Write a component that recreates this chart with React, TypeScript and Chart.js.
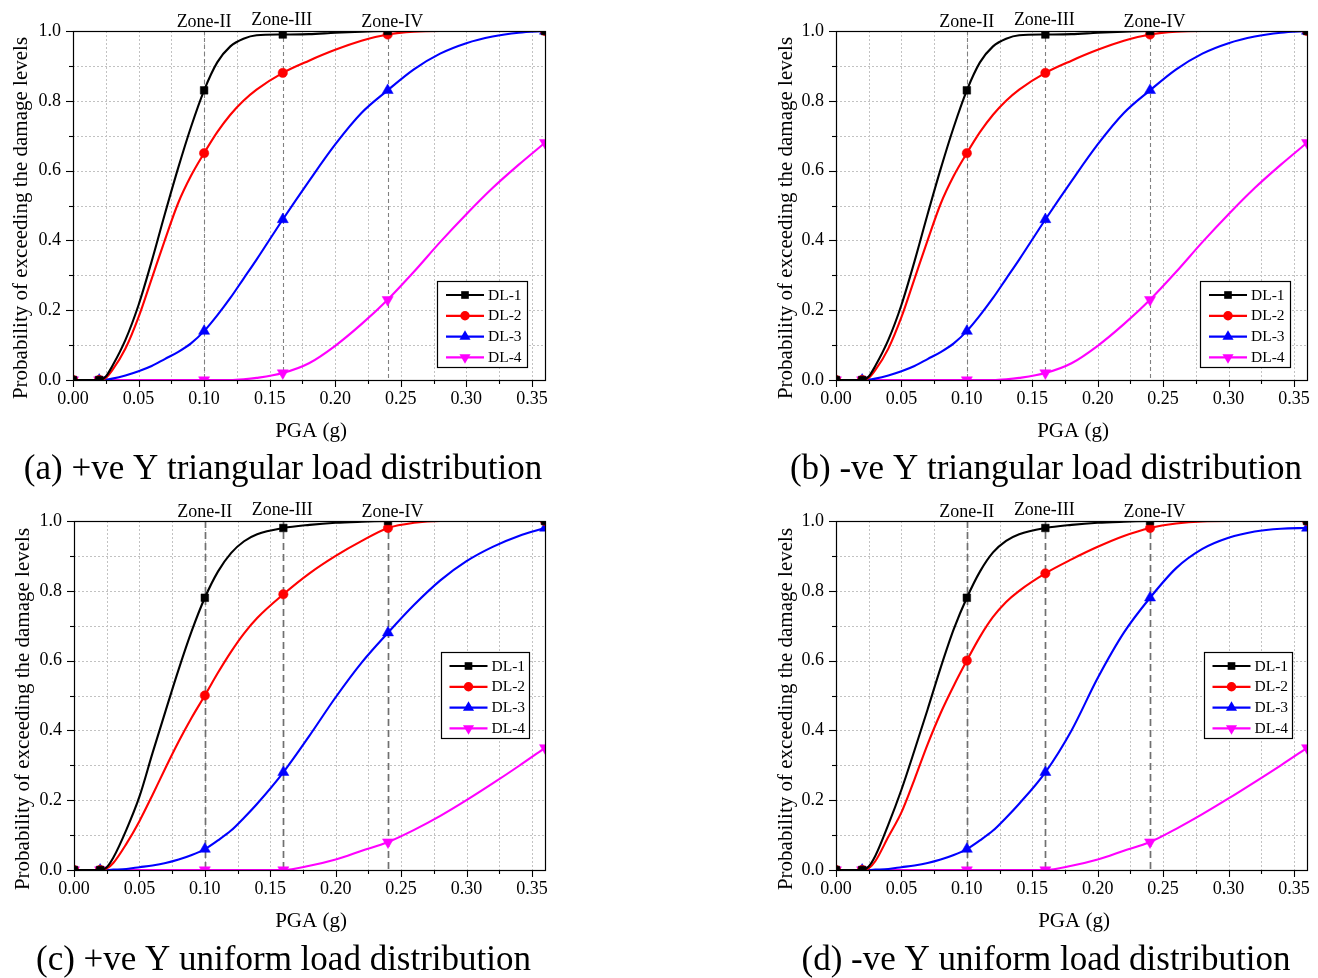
import React, { useEffect, useRef } from 'react';
import { Chart, registerables } from 'chart.js';

Chart.register(...registerables);

// ---------- data ----------
const PGA = [0, 0.02, 0.025, 0.03, 0.04, 0.05, 0.06, 0.07, 0.08, 0.09, 0.10, 0.11, 0.12, 0.13, 0.14, 0.16, 0.18, 0.20, 0.22, 0.24, 0.26, 0.28, 0.30, 0.32, 0.34, 0.36];
const MARKER_PGA = [0, 0.02, 0.10, 0.16, 0.24, 0.36];
const SERIES_LABELS = ['DL-1', 'DL-2', 'DL-3', 'DL-4'];

// (a) +ve Y triangular
const A_DL1 = [0, 0, 0.01, 0.04, 0.115, 0.215, 0.34, 0.475, 0.605, 0.725, 0.83, 0.91, 0.956, 0.978, 0.988, 0.99, 0.991, 0.995, 0.998, 1, 1, 1, 1, 1, 1, 1];
const A_DL2 = [0, 0, 0.006, 0.028, 0.09, 0.18, 0.29, 0.4, 0.505, 0.585, 0.65, 0.71, 0.76, 0.8, 0.832, 0.88, 0.915, 0.946, 0.972, 0.99, 0.998, 1, 1, 1, 1, 1];
const A_DL3 = [0, 0, 0.001, 0.004, 0.013, 0.025, 0.04, 0.06, 0.08, 0.105, 0.14, 0.185, 0.235, 0.29, 0.345, 0.46, 0.57, 0.675, 0.765, 0.83, 0.89, 0.935, 0.965, 0.984, 0.995, 1];
const A_DL4 = [0, 0, 0, 0, 0, 0, 0, 0, 0, 0, 0, 0, 0, 0.002, 0.006, 0.02, 0.048, 0.098, 0.16, 0.23, 0.31, 0.395, 0.475, 0.55, 0.617, 0.68];

// (b) -ve Y triangular
const B_DL1 = [0, 0, 0.01, 0.04, 0.115, 0.215, 0.34, 0.475, 0.605, 0.725, 0.83, 0.91, 0.956, 0.978, 0.988, 0.99, 0.991, 0.995, 0.998, 1, 1, 1, 1, 1, 1, 1];
const B_DL2 = [0, 0, 0.006, 0.028, 0.09, 0.18, 0.29, 0.4, 0.505, 0.585, 0.65, 0.71, 0.76, 0.8, 0.832, 0.88, 0.915, 0.946, 0.972, 0.99, 0.998, 1, 1, 1, 1, 1];
const B_DL3 = [0, 0, 0.001, 0.004, 0.013, 0.025, 0.04, 0.06, 0.08, 0.105, 0.14, 0.185, 0.235, 0.29, 0.345, 0.46, 0.57, 0.675, 0.765, 0.83, 0.89, 0.935, 0.965, 0.984, 0.995, 1];
const B_DL4 = [0, 0, 0, 0, 0, 0, 0, 0, 0, 0, 0, 0, 0, 0.002, 0.006, 0.02, 0.048, 0.098, 0.16, 0.23, 0.31, 0.395, 0.475, 0.55, 0.617, 0.68];

// (c) +ve Y uniform
const C_DL1 = [0, 0, 0.008, 0.035, 0.115, 0.21, 0.335, 0.456, 0.575, 0.685, 0.78, 0.855, 0.908, 0.942, 0.962, 0.98, 0.989, 0.995, 0.998, 1, 1, 1, 1, 1, 1, 1];
const C_DL2 = [0, 0, 0.004, 0.02, 0.075, 0.14, 0.215, 0.293, 0.368, 0.437, 0.5, 0.565, 0.625, 0.678, 0.722, 0.79, 0.85, 0.9, 0.943, 0.98, 0.995, 1, 1, 1, 1, 1];
const C_DL3 = [0, 0, 0, 0.001, 0.003, 0.008, 0.013, 0.02, 0.03, 0.043, 0.06, 0.085, 0.113, 0.15, 0.19, 0.28, 0.385, 0.495, 0.595, 0.68, 0.76, 0.83, 0.885, 0.926, 0.957, 0.98];
const C_DL4 = [0, 0, 0, 0, 0, 0, 0, 0, 0, 0, 0, 0, 0, 0, 0, 0, 0.012, 0.03, 0.055, 0.08, 0.115, 0.155, 0.2, 0.248, 0.298, 0.35];

// (d) -ve Y uniform
const D_DL1 = [0, 0, 0.01, 0.04, 0.13, 0.23, 0.343, 0.46, 0.58, 0.69, 0.78, 0.855, 0.91, 0.943, 0.962, 0.98, 0.989, 0.995, 0.998, 1, 1, 1, 1, 1, 1, 1];
const D_DL2 = [0, 0, 0.005, 0.025, 0.095, 0.165, 0.26, 0.36, 0.45, 0.528, 0.6, 0.668, 0.725, 0.768, 0.8, 0.85, 0.89, 0.926, 0.957, 0.98, 0.993, 0.999, 1, 1, 1, 1];
const D_DL3 = [0, 0, 0, 0.001, 0.003, 0.008, 0.013, 0.02, 0.03, 0.043, 0.06, 0.085, 0.113, 0.15, 0.19, 0.28, 0.4, 0.55, 0.68, 0.78, 0.865, 0.92, 0.952, 0.97, 0.978, 0.98];
const D_DL4 = [0, 0, 0, 0, 0, 0, 0, 0, 0, 0, 0, 0, 0, 0, 0, 0, 0.012, 0.03, 0.055, 0.08, 0.118, 0.16, 0.205, 0.252, 0.3, 0.35];

const X_TICKS = [0, 0.05, 0.1, 0.15, 0.2, 0.25, 0.3, 0.35];
const X_TICK_LABELS = ['0.00', '0.05', '0.10', '0.15', '0.20', '0.25', '0.30', '0.35'];
const X_MINOR = [0.025, 0.075, 0.125, 0.175, 0.225, 0.275, 0.325];
const Y_TICKS = [0, 0.2, 0.4, 0.6, 0.8, 1.0];
const Y_TICK_LABELS = ['0.0', '0.2', '0.4', '0.6', '0.8', '1.0'];
const Y_MINOR = [0.1, 0.3, 0.5, 0.7, 0.9];
const ZONE_PGA = [0.1, 0.16, 0.24];
const ZONE_LABELS = ['Zone-II', 'Zone-III', 'Zone-IV'];
const X_TITLE = 'PGA (g)';
const Y_TITLE = 'Probability of exceeding the damage levels';
const CAPTIONS = [
  '(a) +ve Y triangular load distribution',
  '(b) -ve Y triangular load distribution',
  '(c) +ve Y uniform load distribution',
  '(d) -ve Y uniform load distribution',
];

// ---------- styles / layout ----------
const SERIF = "'Liberation Serif', 'Times New Roman', Times, serif";
const STYLES = [
  { color: '#000000', pointStyle: 'rect', radius: 5.4, rotation: 0 },
  { color: '#ff0000', pointStyle: 'circle', radius: 4.7, rotation: 0 },
  { color: '#0000ff', pointStyle: 'triangle', radius: 6.4, rotation: 0 },
  { color: '#ff00ff', pointStyle: 'triangle', radius: 6.4, rotation: 180 },
];
const ZONE_DX = [0, -1, 4.5];
const ZONE_DY = [-4.5, -6, -4.5];

const LIGHT_ZONE = { color: '#808080', width: 1.1, dash: [4, 3] };
const BOLD_ZONE = { color: '#707070', width: 1.7, dash: [7, 4] };

const PANELS = [
  {
    series: [A_DL1, A_DL2, A_DL3, A_DL4], caption: CAPTIONS[0],
    cv: { x: 0, y: 0, w: 560, h: 490 }, area: { l: 73, t: 31, r: 545, b: 380 },
    legend: { x: 437, y: 281, w: 90, h: 86 },
    yTitle: { x: 27, y: 218 }, xTitle: { x: 311, y: 437 }, cap: { x: 283, y: 479 }, zone: LIGHT_ZONE,
  },
  {
    series: [B_DL1, B_DL2, B_DL3, B_DL4], caption: CAPTIONS[1],
    cv: { x: 758, y: 0, w: 560, h: 490 }, area: { l: 836, t: 31, r: 1308, b: 380 },
    legend: { x: 1200, y: 281, w: 90, h: 86 },
    yTitle: { x: 792, y: 218 }, xTitle: { x: 1073, y: 437 }, cap: { x: 1046, y: 479 }, zone: LIGHT_ZONE,
  },
  {
    series: [C_DL1, C_DL2, C_DL3, C_DL4], caption: CAPTIONS[2],
    cv: { x: 0, y: 490, w: 560, h: 488 }, area: { l: 74, t: 521, r: 545, b: 870 },
    legend: { x: 440.5, y: 652, w: 87.5, h: 86 },
    yTitle: { x: 28.5, y: 709 }, xTitle: { x: 311, y: 927 }, cap: { x: 283.5, y: 970 }, zone: BOLD_ZONE,
  },
  {
    series: [D_DL1, D_DL2, D_DL3, D_DL4], caption: CAPTIONS[3],
    cv: { x: 758, y: 490, w: 560, h: 488 }, area: { l: 836, t: 521, r: 1308, b: 870 },
    legend: { x: 1203.5, y: 652, w: 87.5, h: 86 },
    yTitle: { x: 792, y: 709 }, xTitle: { x: 1074, y: 927 }, cap: { x: 1046, y: 970 }, zone: BOLD_ZONE,
  },
];

function markerPath(ctx: CanvasRenderingContext2D, style: string, x: number, y: number, r: number, rotDeg: number) {
  ctx.beginPath();
  if (style === 'circle') {
    ctx.arc(x, y, r, 0, Math.PI * 2);
  } else if (style === 'rect') {
    const s = r / Math.SQRT2;
    ctx.rect(x - s, y - s, 2 * s, 2 * s);
  } else {
    let rad = (rotDeg * Math.PI) / 180;
    for (let k = 0; k < 3; k++) {
      const px = x + Math.sin(rad) * r;
      const py = y - Math.cos(rad) * r;
      if (k === 0) ctx.moveTo(px, py);
      else ctx.lineTo(px, py);
      rad += (2 * Math.PI) / 3;
    }
    ctx.closePath();
  }
}

function PanelChart({ panel }: { panel: any }) {
  const ref = useRef<HTMLCanvasElement>(null);

  useEffect(() => {
    const canvas = ref.current;
    if (!canvas) return;
    const { cv, area } = panel;
    const ox = cv.x;
    const oy = cv.y;

    const datasets = panel.series.map((vals: number[], i: number) => {
      const st = STYLES[i];
      return {
        label: SERIES_LABELS[i],
        data: PGA.map((x, j) => ({ x, y: vals[j] })),
        borderColor: st.color,
        backgroundColor: st.color,
        pointBackgroundColor: st.color,
        pointBorderColor: st.color,
        pointBorderWidth: 0.5,
        borderWidth: 2.1,
        pointStyle: st.pointStyle,
        pointRotation: st.rotation,
        pointRadius: PGA.map((x) => (MARKER_PGA.some((m) => Math.abs(m - x) < 1e-9) ? st.radius : 0)),
        pointHoverRadius: 0,
        cubicInterpolationMode: 'monotone',
        fill: false,
      };
    });

    const deco = {
      id: 'deco',
      beforeDatasetsDraw(chart: any) {
        const { ctx, chartArea: ca, scales } = chart;
        const xs = scales.x;
        const ys = scales.y;
        ctx.save();
        ctx.strokeStyle = '#c2c2c2';
        ctx.lineWidth = 1;
        ctx.setLineDash([2, 2]);
        [...X_TICKS, ...X_MINOR].forEach((v) => {
          if (v <= 0) return;
          const px = Math.round(xs.getPixelForValue(v)) + 0.5;
          ctx.beginPath();
          ctx.moveTo(px, ca.top);
          ctx.lineTo(px, ca.bottom);
          ctx.stroke();
        });
        [...Y_TICKS, ...Y_MINOR].forEach((v) => {
          if (v <= 0 || v >= 1) return;
          const py = Math.round(ys.getPixelForValue(v)) + 0.5;
          ctx.beginPath();
          ctx.moveTo(ca.left, py);
          ctx.lineTo(ca.right, py);
          ctx.stroke();
        });
        // zone lines
        ctx.strokeStyle = panel.zone.color;
        ctx.lineWidth = panel.zone.width;
        ctx.setLineDash(panel.zone.dash);
        ZONE_PGA.forEach((v) => {
          const px = Math.round(xs.getPixelForValue(v)) + 0.5;
          ctx.beginPath();
          ctx.moveTo(px, ca.top);
          ctx.lineTo(px, ca.bottom);
          ctx.stroke();
        });
        ctx.restore();
      },
      afterDraw(chart: any) {
        const { ctx, chartArea: ca, scales } = chart;
        const xs = scales.x;
        const ys = scales.y;
        ctx.save();
        ctx.setLineDash([]);
        // frame
        ctx.strokeStyle = '#000';
        ctx.lineWidth = 1.2;
        ctx.strokeRect(Math.round(ca.left) + 0.5, Math.round(ca.top) + 0.5, Math.round(ca.right - ca.left), Math.round(ca.bottom - ca.top));
        // tick marks
        ctx.lineWidth = 1.1;
        const tick = (x1: number, y1: number, x2: number, y2: number) => {
          ctx.beginPath();
          ctx.moveTo(x1, y1);
          ctx.lineTo(x2, y2);
          ctx.stroke();
        };
        X_TICKS.forEach((v) => {
          const px = Math.round(xs.getPixelForValue(v)) + 0.5;
          tick(px, ca.bottom, px, ca.bottom + 7);
        });
        X_MINOR.forEach((v) => {
          const px = Math.round(xs.getPixelForValue(v)) + 0.5;
          tick(px, ca.bottom, px, ca.bottom + 4);
        });
        Y_TICKS.forEach((v) => {
          const py = Math.round(ys.getPixelForValue(v)) + 0.5;
          tick(ca.left, py, ca.left - 7, py);
        });
        Y_MINOR.forEach((v) => {
          const py = Math.round(ys.getPixelForValue(v)) + 0.5;
          tick(ca.left, py, ca.left - 4, py);
        });

        // zone labels
        ctx.fillStyle = '#000';
        ctx.font = `18px ${SERIF}`;
        ctx.textAlign = 'center';
        ctx.textBaseline = 'alphabetic';
        ZONE_PGA.forEach((v, i) => {
          const px = xs.getPixelForValue(v) + ZONE_DX[i];
          ctx.fillText(ZONE_LABELS[i], px, ca.top + ZONE_DY[i]);
        });

        // legend
        const lg = panel.legend;
        const lx = lg.x - ox;
        const ly = lg.y - oy;
        ctx.fillStyle = '#fff';
        ctx.fillRect(lx, ly, lg.w, lg.h);
        ctx.strokeStyle = '#000';
        ctx.lineWidth = 1.2;
        ctx.strokeRect(Math.round(lx) + 0.5, Math.round(ly) + 0.5, Math.round(lg.w), Math.round(lg.h));
        chart.data.datasets.forEach((ds: any, i: number) => {
          const st = STYLES[i];
          const ry = ly + 14 + i * 20.8;
          ctx.strokeStyle = st.color;
          ctx.lineWidth = 2.2;
          ctx.beginPath();
          ctx.moveTo(lx + 9, ry);
          ctx.lineTo(lx + 47, ry);
          ctx.stroke();
          ctx.fillStyle = st.color;
          markerPath(ctx, st.pointStyle, lx + 28, ry, st.radius, st.rotation);
          ctx.fill();
          ctx.fillStyle = '#000';
          ctx.font = `15.5px ${SERIF}`;
          ctx.textAlign = 'left';
          ctx.textBaseline = 'middle';
          ctx.fillText(ds.label, lx + 51, ry + 0.5);
        });

        // axis titles
        ctx.fillStyle = '#000';
        ctx.font = `21px ${SERIF}`;
        ctx.textAlign = 'center';
        ctx.textBaseline = 'alphabetic';
        ctx.fillText(X_TITLE, panel.xTitle.x - ox, panel.xTitle.y - oy);
        ctx.save();
        ctx.translate(panel.yTitle.x - ox, panel.yTitle.y - oy);
        ctx.rotate(-Math.PI / 2);
        ctx.fillText(Y_TITLE, 0, 0);
        ctx.restore();

        // caption
        ctx.font = `35px ${SERIF}`;
        ctx.textAlign = 'center';
        ctx.textBaseline = 'alphabetic';
        ctx.fillText(panel.caption, panel.cap.x - ox, panel.cap.y - oy);
        ctx.restore();
      },
    };

    const chart = new Chart(canvas, {
      type: 'line',
      data: { datasets },
      options: {
        responsive: false,
        animation: false,
        devicePixelRatio: 1,
        events: [],
        layout: { padding: { left: 0, top: area.t - oy, right: ox + cv.w - area.r, bottom: 0 } },
        plugins: { legend: { display: false }, tooltip: { enabled: false }, title: { display: false } },
        scales: {
          x: {
            type: 'linear',
            min: 0,
            max: 0.36,
            afterBuildTicks: (s: any) => {
              s.ticks = X_TICKS.map((v) => ({ value: v }));
            },
            afterFit: (s: any) => {
              s.height = oy + cv.h - area.b;
            },
            grid: { display: false, drawTicks: false },
            border: { display: false },
            ticks: {
              autoSkip: false,
              maxRotation: 0,
              minRotation: 0,
              padding: 8,
              color: '#000',
              font: { family: SERIF, size: 18 },
              callback: (_v: any, i: number) => X_TICK_LABELS[i],
            },
          },
          y: {
            type: 'linear',
            min: 0,
            max: 1,
            afterBuildTicks: (s: any) => {
              s.ticks = Y_TICKS.map((v) => ({ value: v }));
            },
            afterFit: (s: any) => {
              s.width = area.l - ox;
            },
            grid: { display: false, drawTicks: false },
            border: { display: false },
            ticks: {
              autoSkip: false,
              padding: 12,
              color: '#000',
              font: { family: SERIF, size: 18 },
              callback: (_v: any, i: number) => Y_TICK_LABELS[i],
            },
          },
        },
      },
      plugins: [deco],
    } as any);

    return () => chart.destroy();
  }, [panel]);

  return (
    <canvas
      ref={ref}
      width={panel.cv.w}
      height={panel.cv.h}
      style={{ position: 'absolute', left: panel.cv.x, top: panel.cv.y, width: panel.cv.w, height: panel.cv.h }}
    />
  );
}

export default function App() {
  return (
    <div style={{ position: 'absolute', left: 0, top: 0, width: 1318, height: 978, background: '#fff', overflow: 'hidden' }}>
      {PANELS.map((p, i) => (
        <PanelChart key={i} panel={p} />
      ))}
    </div>
  );
}
